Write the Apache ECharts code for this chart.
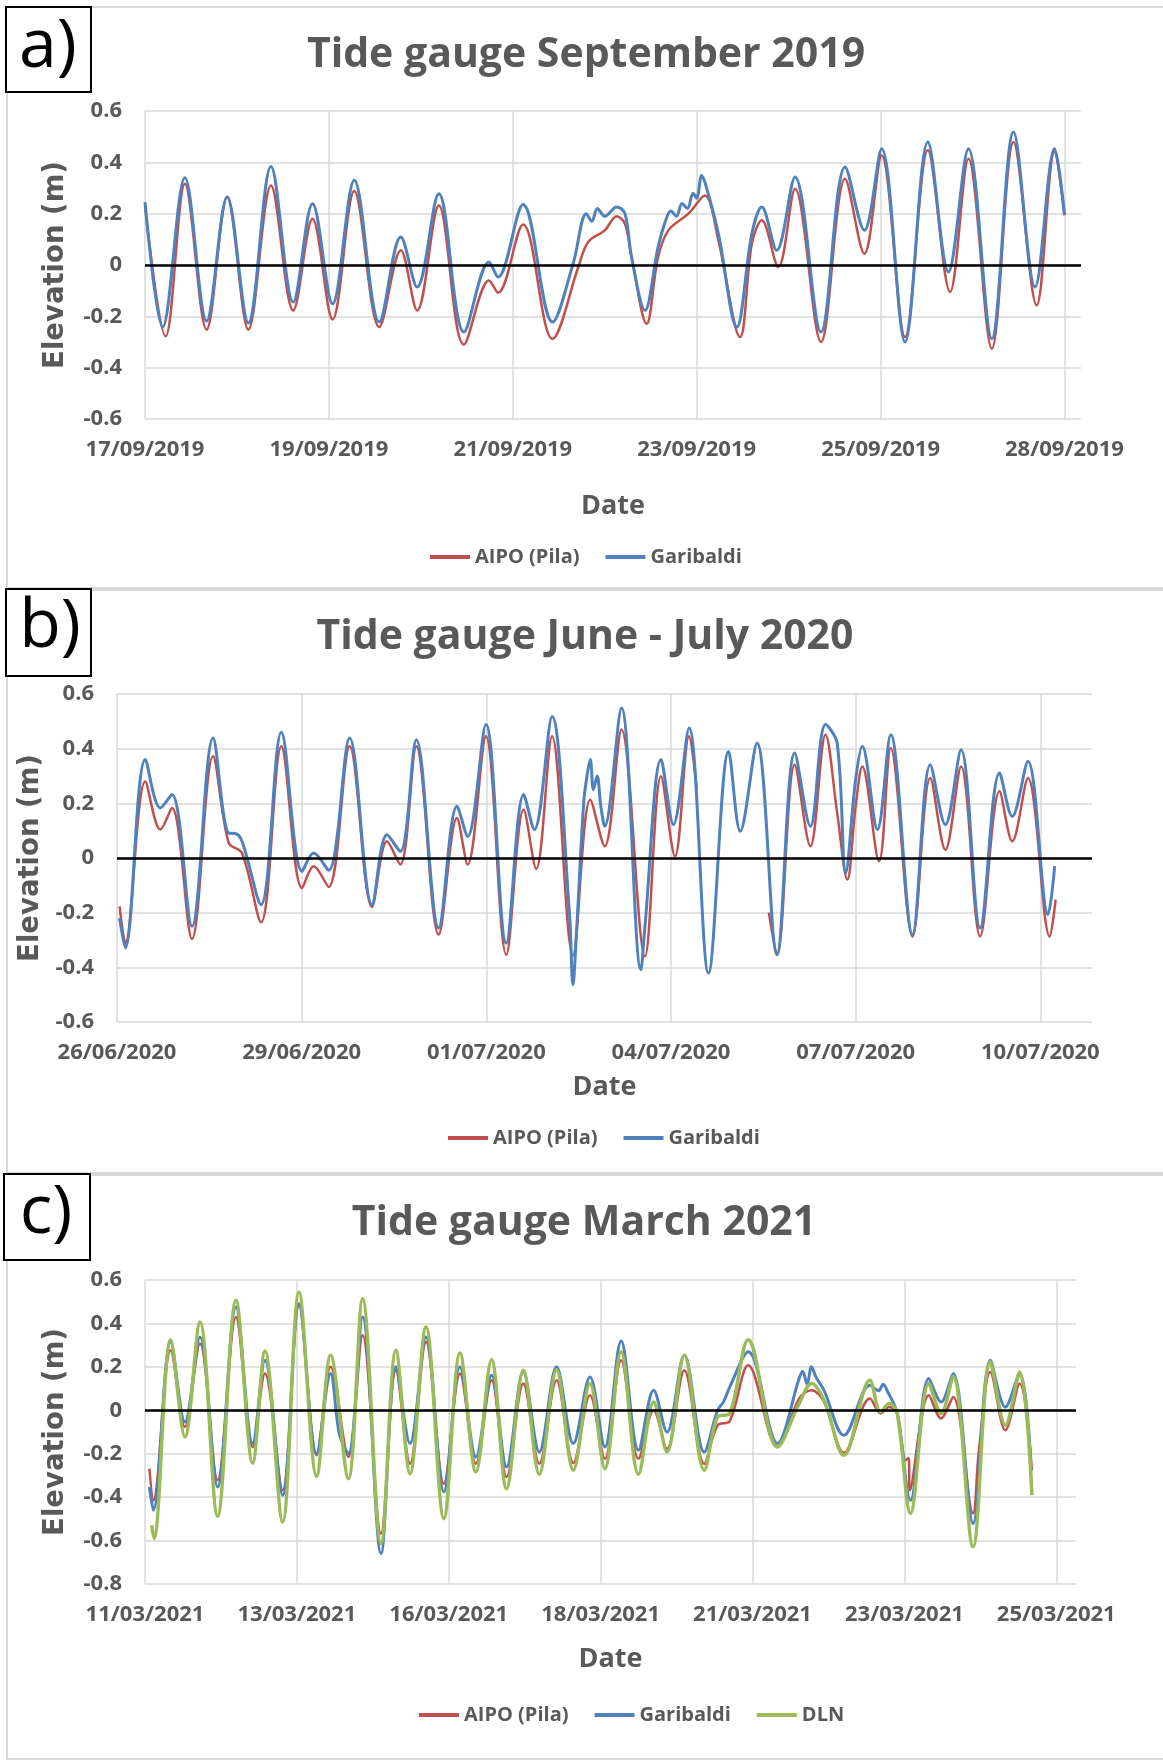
<!DOCTYPE html>
<html>
<head>
<meta charset="utf-8">
<title>Tide gauges</title>
<script src="https://cdn.jsdelivr.net/npm/echarts@6/dist/echarts.min.js"></script>
<style>
html, body { margin: 0; padding: 0; background: #fff; }
#chart { width: 1163px; height: 1760px; }
</style>
</head>
<body>
<div id="chart"></div>
<script>
// x values are in "label steps": 0 = first date label, 1 = second one, ...
var aLabels = ['17/09/2019', '19/09/2019', '21/09/2019', '23/09/2019', '25/09/2019', '28/09/2019'];
var bLabels = ['26/06/2020', '29/06/2020', '01/07/2020', '04/07/2020', '07/07/2020', '10/07/2020'];
var cLabels = ['11/03/2021', '13/03/2021', '16/03/2021', '18/03/2021', '21/03/2021', '23/03/2021', '25/03/2021'];

// a) September 2019
var aPila = [[0, 0.23], [0.112, -0.278], [0.217, 0.317], [0.335, -0.252], [0.447, 0.265], [0.562, -0.252], [0.685, 0.31],
	[0.806, -0.177], [0.911, 0.18], [1.02, -0.212], [1.138, 0.288], [1.274, -0.242], [1.391, 0.057], [1.48, -0.177],
	[1.598, 0.232], [1.734, -0.31], [1.871, -0.06], [1.92, -0.108], [2.056, 0.158], [2.216, -0.288], [2.36, 0.0],
	[2.41, 0.09], [2.5, 0.135], [2.565, 0.19], [2.61, 0.16], [2.646, 0.03], [2.728, -0.229], [2.79, 0.03], [2.846, 0.135],
	[2.955, 0.2], [3.045, 0.271], [3.118, 0.096], [3.236, -0.281], [3.3, 0.083], [3.354, 0.174], [3.444, -0.008],
	[3.535, 0.297], [3.676, -0.3], [3.807, 0.336], [3.912, 0.044], [4.006, 0.427], [4.133, -0.281], [4.257, 0.447],
	[4.378, -0.105], [4.478, 0.414], [4.605, -0.326], [4.723, 0.479], [4.849, -0.157], [4.946, 0.44], [5.0, 0.194]];
var aGaribaldi = [[0, 0.245], [0.096, -0.242], [0.217, 0.34], [0.335, -0.218], [0.447, 0.265], [0.562, -0.226], [0.685, 0.384],
	[0.806, -0.144], [0.911, 0.239], [1.02, -0.151], [1.138, 0.33], [1.274, -0.222], [1.391, 0.109], [1.48, -0.086],
	[1.598, 0.278], [1.734, -0.261], [1.871, 0.012], [1.92, -0.047], [2.056, 0.236], [2.216, -0.222], [2.328, 0.005],
	[2.4, 0.2], [2.43, 0.17], [2.46, 0.22], [2.5, 0.19], [2.565, 0.226], [2.61, 0.2], [2.646, 0.03], [2.719, -0.177],
	[2.79, 0.07], [2.83, 0.17], [2.86, 0.21], [2.89, 0.19], [2.92, 0.24], [2.95, 0.22], [2.98, 0.28], [3.0, 0.26],
	[3.027, 0.349], [3.05, 0.31], [3.118, 0.122], [3.218, -0.242], [3.3, 0.122], [3.354, 0.226], [3.435, 0.057],
	[3.535, 0.343], [3.676, -0.261], [3.807, 0.382], [3.912, 0.135], [4.006, 0.453], [4.133, -0.3], [4.257, 0.479],
	[4.369, -0.027], [4.478, 0.453], [4.605, -0.287], [4.723, 0.518], [4.84, -0.086], [4.946, 0.453], [5.0, 0.194]];

// b) June - July 2020 (AIPO has a gap around 04/07)
var bPila = [[0.014, -0.177], [0.045, -0.311], [0.153, 0.28], [0.235, 0.104], [0.298, 0.183], [0.406, -0.296], [0.52, 0.372],
	[0.605, 0.055], [0.677, 0.018], [0.78, -0.235], [0.89, 0.409], [1.002, -0.11], [1.065, -0.03], [1.146, -0.106],
	[1.26, 0.409], [1.381, -0.179], [1.462, 0.061], [1.534, -0.024], [1.621, 0.409], [1.742, -0.28], [1.841, 0.146],
	[1.899, -0.024], [1.998, 0.445], [2.108, -0.354], [2.202, 0.177], [2.27, -0.04], [2.356, 0.445], [2.469, -0.357],
	[2.563, 0.213], [2.641, 0.043], [2.732, 0.47], [2.859, -0.36], [2.946, 0.299], [3.022, 0.006], [3.098, 0.445],
	[3.14, 0.25], [3.3, null], [3.53, -0.2], [3.574, -0.354], [3.67, 0.341], [3.755, 0.043], [3.837, 0.451], [3.9, 0.165],
	[3.955, -0.079], [4.0, 0.189], [4.036, 0.335], [4.127, -0.012], [4.19, 0.402], [4.308, -0.287], [4.404, 0.293],
	[4.486, 0.03], [4.571, 0.335], [4.674, -0.287], [4.779, 0.244], [4.848, 0.061], [4.933, 0.293], [5.051, -0.287],
	[5.083, -0.152]];
var bGaribaldi = [[0.014, -0.22], [0.045, -0.329], [0.153, 0.36], [0.235, 0.183], [0.298, 0.232], [0.406, -0.25], [0.52, 0.439],
	[0.605, 0.091], [0.64, 0.09], [0.677, 0.061], [0.78, -0.171], [0.89, 0.46], [1.002, -0.049], [1.065, 0.018],
	[1.146, -0.045], [1.26, 0.439], [1.381, -0.171], [1.462, 0.085], [1.534, 0.024], [1.621, 0.433], [1.742, -0.256],
	[1.841, 0.189], [1.899, 0.079], [1.998, 0.488], [2.108, -0.311], [2.202, 0.232], [2.26, 0.104], [2.356, 0.518],
	[2.45, -0.2], [2.469, -0.463], [2.49, -0.25], [2.527, 0.2], [2.545, 0.3], [2.563, 0.36], [2.58, 0.25], [2.6, 0.3],
	[2.62, 0.19], [2.641, 0.116], [2.732, 0.549], [2.837, -0.409], [2.859, -0.25], [2.946, 0.36], [3.013, 0.122],
	[3.098, 0.476], [3.203, -0.421], [3.312, 0.39], [3.375, 0.098], [3.466, 0.421], [3.574, -0.354], [3.67, 0.384],
	[3.755, 0.116], [3.837, 0.488], [3.9, 0.42], [3.946, -0.055], [4.0, 0.287], [4.036, 0.409], [4.118, 0.104],
	[4.19, 0.451], [4.308, -0.28], [4.404, 0.341], [4.486, 0.122], [4.571, 0.396], [4.674, -0.256], [4.779, 0.311],
	[4.848, 0.152], [4.933, 0.354], [5.042, -0.207], [5.078, -0.03]];

// c) March 2021
var cPila = [[0.029, -0.269], [0.055, -0.414], [0.169, 0.276], [0.263, -0.077], [0.362, 0.307], [0.478, -0.322], [0.599, 0.43],
	[0.709, -0.169], [0.79, 0.169], [0.906, -0.368], [1.014, 0.484], [1.13, -0.207], [1.222, 0.2], [1.339, -0.215],
	[1.433, 0.345], [1.554, -0.568], [1.652, 0.184], [1.745, -0.246], [1.85, 0.315], [1.968, -0.338], [2.074, 0.169],
	[2.179, -0.246], [2.282, 0.138], [2.381, -0.307], [2.491, 0.123], [2.596, -0.246], [2.71, 0.138], [2.82, -0.243],
	[2.93, 0.069], [3.028, -0.223], [3.135, 0.23], [3.249, -0.223], [3.349, 0.0], [3.437, -0.177], [3.551, 0.184],
	[3.682, -0.246], [3.77, -0.069], [3.85, -0.05], [3.972, 0.207], [4.164, -0.169], [4.307, 0.054], [4.388, 0.092],
	[4.471, 0.04], [4.602, -0.196], [4.773, 0.054], [4.843, -0.015], [4.9, 0.015], [4.953, -0.015], [5.008, -0.23],
	[5.028, -0.22], [5.036, -0.368], [5.161, 0.069], [5.242, -0.038], [5.321, 0.061], [5.452, -0.475], [5.49, -0.19],
	[5.566, 0.176], [5.665, -0.092], [5.759, 0.123], [5.84, -0.276]];
var cGaribaldi = [[0.029, -0.353], [0.055, -0.46], [0.169, 0.315], [0.263, -0.054], [0.362, 0.338], [0.478, -0.353],
	[0.599, 0.476], [0.709, -0.153], [0.79, 0.23], [0.906, -0.391], [1.014, 0.491], [1.13, -0.2], [1.222, 0.169],
	[1.28, -0.11], [1.339, -0.2], [1.433, 0.43], [1.554, -0.66], [1.652, 0.2], [1.745, -0.153], [1.85, 0.338],
	[1.968, -0.376], [2.074, 0.2], [2.179, -0.215], [2.282, 0.161], [2.381, -0.261], [2.491, 0.177], [2.596, -0.192],
	[2.71, 0.2], [2.82, -0.153], [2.93, 0.153], [3.028, -0.169], [3.135, 0.319], [3.249, -0.184], [3.349, 0.092],
	[3.437, -0.1], [3.551, 0.253], [3.682, -0.192], [3.77, 0.0], [3.81, 0.04], [3.85, 0.107], [3.972, 0.269],
	[4.164, -0.153], [4.307, 0.146], [4.33, 0.18], [4.36, 0.12], [4.388, 0.2], [4.42, 0.15], [4.471, 0.092],
	[4.602, -0.115], [4.773, 0.115], [4.83, 0.09], [4.86, 0.12], [4.887, 0.09], [4.953, -0.015], [5.04, -0.414],
	[5.161, 0.146], [5.242, 0.038], [5.321, 0.169], [5.452, -0.521], [5.566, 0.23], [5.665, 0.015], [5.759, 0.169],
	[5.83, -0.215]];
var cDLN = [[0.044, -0.53], [0.059, -0.59], [0.169, 0.325], [0.263, -0.123], [0.362, 0.407], [0.478, -0.488], [0.599, 0.507],
	[0.709, -0.243], [0.79, 0.273], [0.906, -0.514], [1.014, 0.545], [1.13, -0.304], [1.222, 0.253], [1.339, -0.315],
	[1.433, 0.514], [1.554, -0.614], [1.652, 0.276], [1.745, -0.292], [1.85, 0.384], [1.968, -0.499], [2.074, 0.264],
	[2.179, -0.284], [2.282, 0.233], [2.381, -0.361], [2.491, 0.184], [2.596, -0.295], [2.71, 0.187], [2.82, -0.276],
	[2.93, 0.123], [3.028, -0.269], [3.135, 0.269], [3.249, -0.295], [3.349, 0.038], [3.437, -0.192], [3.551, 0.253],
	[3.682, -0.276], [3.77, -0.031], [3.85, -0.015], [3.972, 0.325], [4.164, -0.169], [4.307, 0.031], [4.388, 0.123],
	[4.471, 0.046], [4.602, -0.207], [4.773, 0.138], [4.843, -0.008], [4.9, 0.031], [4.953, -0.015], [5.04, -0.475],
	[5.161, 0.123], [5.242, -0.015], [5.321, 0.156], [5.452, -0.628], [5.566, 0.222], [5.665, -0.069], [5.759, 0.176],
	[5.84, -0.391]];

var RED = '#C0504D', BLUE = '#4F81BD', GREEN = '#9BBB59';
var GREY = '#595959', GRID = '#d9d9d9';
var fontLabel = 'Open Sans';

var chart = echarts.init(document.getElementById('chart'));

function xAxis(idx, labels, max, nameGap) {
	return {
		gridIndex : idx,
		type : 'value',
		min : 0,
		max : max,
		interval : 1,
		axisLine : { show : false },
		axisTick : { show : false },
		splitLine : { show : true, showMaxLine : false, lineStyle : { color : GRID, width : 1.5 } },
		axisLabel : {
			margin : 20,
			color : GREY,
			fontFamily : fontLabel,
			fontWeight : 'bold',
			fontSize : 22,
			showMaxLabel : false,
			formatter : function(v) {
				return Math.abs(v - Math.round(v)) < 1e-6 && labels[Math.round(v)] ? labels[Math.round(v)] : '';
			}
		},
		name : 'Date',
		nameLocation : 'middle',
		nameGap : nameGap,
		nameTextStyle : { color : GREY, fontFamily : fontLabel, fontWeight : 'bold', fontSize : 27 }
	};
}

function yAxis(idx, min, nameGap) {
	return {
		gridIndex : idx,
		type : 'value',
		min : min,
		max : 0.6,
		interval : 0.2,
		axisLine : { show : false },
		axisTick : { show : false },
		splitLine : { show : true, lineStyle : { color : GRID, width : 1.5 } },
		axisLabel : { margin : 23, color : GREY, fontFamily : fontLabel, fontWeight : 'bold', fontSize : 22 },
		name : 'Elevation (m)',
		nameLocation : 'middle',
		nameGap : nameGap,
		nameTextStyle : { color : GREY, fontFamily : 'DejaVu Sans', fontWeight : 'bold', fontSize : 27.5 }
	};
}

function line(name, data, color, width, idx, z, zeroLine) {
	var s = {
		name : name,
		type : 'line',
		xAxisIndex : idx,
		yAxisIndex : idx,
		data : data,
		smooth : 0.35,
		symbol : 'none',
		showSymbol : false,
		connectNulls : false,
		z : z,
		lineStyle : { color : color, width : width },
		itemStyle : { color : color }
	};
	if (zeroLine) {
		s.markLine = {
			silent : true,
			symbol : 'none',
			label : { show : false },
			lineStyle : { color : '#000', width : 2.5, type : 'solid' },
			data : [ { yAxis : 0 } ]
		};
	}
	return s;
}

function legend(names, left, top) {
	return {
		data : names,
		left : left,
		top : top,
		icon : 'rect',
		itemWidth : 40,
		itemHeight : 4,
		itemGap : 26,
		textStyle : { color : GREY, fontFamily : fontLabel, fontWeight : 'bold', fontSize : 20 }
	};
}

function frame(y, h) {
	return { type : 'rect', silent : true, z : -10, shape : { x : 7, y : y, width : 1170, height : h },
		style : { fill : 'none', stroke : GRID, lineWidth : 2 } };
}

function tag(x, y, w, h, txt, tx, ty) {
	return [
		{ type : 'rect', silent : true, shape : { x : x, y : y, width : w, height : h },
			style : { fill : '#fff', stroke : '#000', lineWidth : 2 } },
		{ type : 'text', silent : true, x : tx, y : ty,
			style : { text : txt, fill : '#000', font : '68px "Open Sans"', align : 'center', verticalAlign : 'middle' } }
	];
}

function heading(txt, x, y) {
	return { type : 'text', silent : true, x : x, y : y,
		style : { text : txt, fill : GREY, font : 'bold 41px "Open Sans"', align : 'center', verticalAlign : 'middle' } };
}

var graphics = [ frame(7, 581), frame(590, 583), frame(1175, 584) ]
	.concat(tag(6, 7, 85, 85, 'a)', 48, 48))
	.concat(tag(6, 589, 85, 87, 'b)', 50, 628))
	.concat(tag(4, 1174, 86, 86, 'c)', 46, 1214))
	.concat([ heading('Tide gauge September 2019', 586, 55),
		heading('Tide gauge June - July 2020', 585, 637),
		heading('Tide gauge March 2021', 584, 1223) ]);

chart.setOption({
	backgroundColor : '#fff',
	animation : false,
	graphic : graphics,
	grid : [
		{ left : 145, right : 82, top : 111, height : 308 },
		{ left : 117, right : 71, top : 694, height : 328 },
		{ left : 145, right : 87, top : 1280, height : 304 }
	],
	xAxis : [ xAxis(0, aLabels, 5.09, 74), xAxis(1, bLabels, 5.28, 52), xAxis(2, cLabels, 6.13, 62) ],
	yAxis : [ yAxis(0, -0.6, 75), yAxis(1, -0.6, 69), yAxis(2, -0.8, 75) ],
	legend : [
		legend([ 'AIPO (Pila)', 'Garibaldi' ], 425, 542),
		legend([ 'AIPO (Pila)', 'Garibaldi' ], 443, 1123),
		legend([ 'AIPO (Pila)', 'Garibaldi', 'DLN' ], 414, 1700)
	],
	series : [
		line('AIPO (Pila)', aPila, RED, 2.5, 0, 2, true),
		line('Garibaldi', aGaribaldi, BLUE, 3, 0, 3),
		line('AIPO (Pila)', bPila, RED, 2.5, 1, 2, true),
		line('Garibaldi', bGaribaldi, BLUE, 3, 1, 3),
		line('AIPO (Pila)', cPila, RED, 2.5, 2, 2, true),
		line('Garibaldi', cGaribaldi, BLUE, 3, 2, 3),
		line('DLN', cDLN, GREEN, 3.5, 2, 4)
	]
});
</script>
</body>
</html>
